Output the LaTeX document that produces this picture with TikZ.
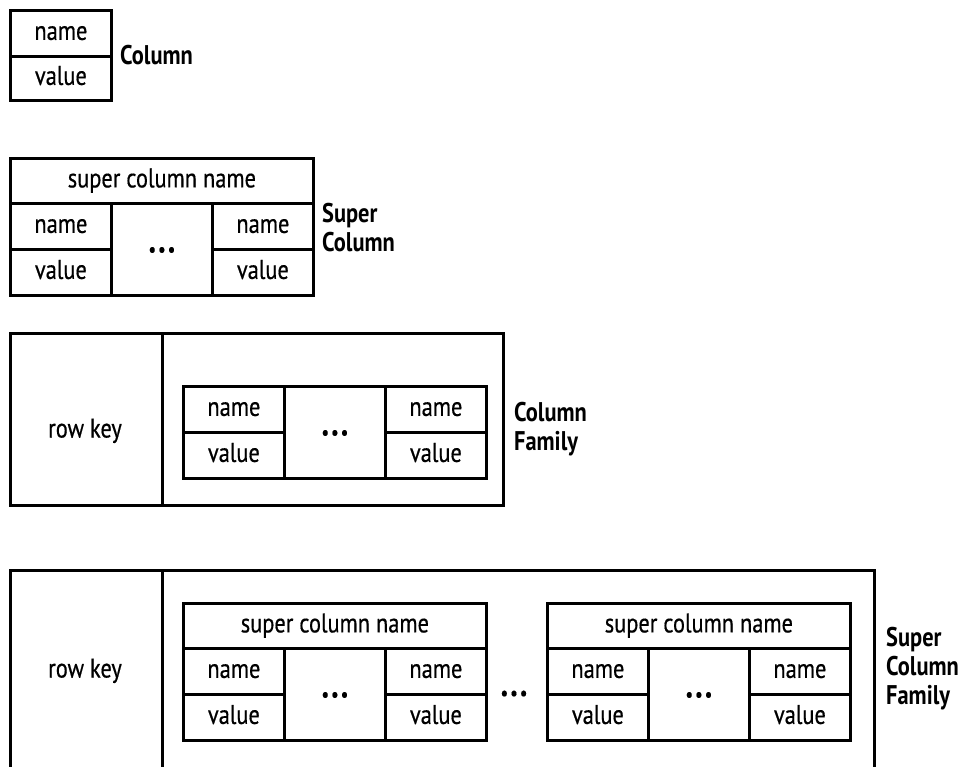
\documentclass[tikz,border=0pt]{standalone}
\usepackage{fontspec}
\setmainfont[FakeStretch=0.83]{PT Sans}
\newfontfamily\cellff[FakeStretch=0.83, FakeBold=0.5]{PT Sans}
\newcommand\cellfont{\cellff\fontsize{27}{29}\selectfont}
\newcommand\lblfont{\fontsize{27}{29}\selectfont\bfseries}
\newcommand\dotstext{{\fontsize{19}{19}\selectfont\bfseries •\hspace{2.5pt}•\hspace{2.5pt}•}}
\tikzset{
  cell/.style={draw, line width=2.8pt, anchor=north west, inner sep=0pt,
    font=\cellfont, text height=19pt, text depth=6pt},
  txt/.style={inner sep=0pt, font=\cellfont, text height=19pt, text depth=6pt},
  lbl/.style={anchor=west, align=left, font=\lblfont, inner sep=0pt},
  colpair/.pic={
    \node[cell, minimum width=101pt, minimum height=46pt] (-n1) at (0,0) {name};
    \node[cell, minimum width=101pt, minimum height=46pt] (-v1) at (0,46) {value};
    \node[cell, minimum width=101pt, minimum height=92pt] (-d) at (101,0) {\dotstext};
    \node[cell, minimum width=101pt, minimum height=46pt] (-n2) at (202,0) {name};
    \node[cell, minimum width=101pt, minimum height=46pt] (-v2) at (202,46) {value};
  },
  supercol/.pic={
    \node[cell, minimum width=303pt, minimum height=45pt] (-h) at (0,0) {super column name};
    \pic (-b) at (0,45) {colpair};
  }
}
\begin{document}
\begin{tikzpicture}[x=1pt,y=-1pt]
\useasboundingbox (0,0) rectangle (965,767);
\clip (0,0) rectangle (965,767);
\fill[white] (0,0) rectangle (965,767);

% Column
\node[cell, minimum width=101pt, minimum height=46pt] (cn) at (9,9) {name};
\node[cell, minimum width=101pt, minimum height=44pt] (cv) at (9,55) {value};
\node[lbl] (clbl) at (120,55) {Column};

% Super Column
\pic (sc) at (9,157) {supercol};
\node[lbl] (sclbl) at (322,228) {Super\\Column};

% Column Family
\node[cell, minimum width=152pt, minimum height=172pt] (cfk) at (9,332) {};
\node[cell, minimum width=341pt, minimum height=172pt] (cfv) at (161,332) {};
\node[txt] (cfkt) at (85,431) {row key};
\pic (cf) at (182,385) {colpair};
\node[lbl] (cflbl) at (514,429) {Column\\Family};

% Super Column Family
\node[cell, minimum width=152pt, minimum height=203pt] (sfk) at (9,569) {};
\node[cell, minimum width=712pt, minimum height=203pt] (sfv) at (161,569) {};
\node[txt] (sfkt) at (85,671) {row key};
\pic (sf1) at (182,602) {supercol};
\pic (sf2) at (546,602) {supercol};
\node[txt] (sfd) at (514,693) {\dotstext};
\node[lbl] (sflbl) at (886,669) {Super\\Column\\Family};
\end{tikzpicture}
\end{document}
